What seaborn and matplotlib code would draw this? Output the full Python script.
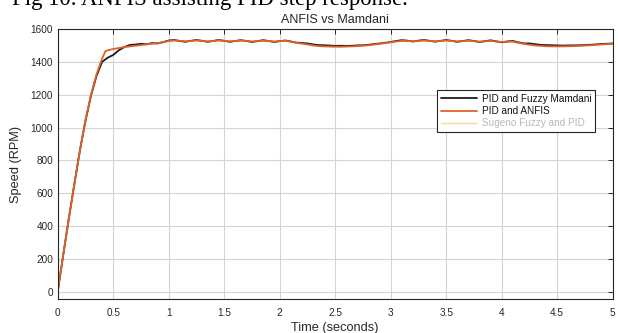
import matplotlib
matplotlib.use("Agg")
import matplotlib.pyplot as plt
from matplotlib.lines import Line2D
import pandas as pd
import seaborn as sns

# --- PID + Fuzzy Mamdani speed response ---
t_mamdani = [0.00, 0.05, 0.10, 0.15, 0.20, 0.25, 0.30, 0.35, 0.40, 0.45,
             0.50, 0.55, 0.60, 0.65, 0.70, 0.75, 0.80, 0.85, 0.90, 0.95,
             1.00, 1.05, 1.10, 1.15, 1.20, 1.25, 1.30, 1.35, 1.40, 1.45,
             1.50, 1.55, 1.60, 1.65, 1.70, 1.75, 1.80, 1.85, 1.90, 1.95,
             2.00, 2.05, 2.10, 2.15, 2.20, 2.25, 2.30, 2.35, 2.40, 2.45,
             2.50, 2.55, 2.60, 2.65, 2.70, 2.75, 2.80, 2.85, 2.90, 2.95,
             3.00, 3.05, 3.10, 3.15, 3.20, 3.25, 3.30, 3.35, 3.40, 3.45,
             3.50, 3.55, 3.60, 3.65, 3.70, 3.75, 3.80, 3.85, 3.90, 3.95,
             4.00, 4.05, 4.10, 4.15, 4.20, 4.25, 4.30, 4.35, 4.40, 4.45,
             4.50, 4.55, 4.60, 4.65, 4.70, 4.75, 4.80, 4.85, 4.90, 4.95,
             5.00]
rpm_mamdani = [0, 225, 445, 655, 860, 1040, 1195, 1315, 1400, 1425,
               1442, 1470, 1490, 1503, 1505, 1510, 1507, 1514, 1512, 1520,
               1530, 1533, 1527, 1522, 1528, 1533, 1528, 1522, 1527, 1533,
               1528, 1522, 1527, 1532, 1527, 1521, 1526, 1532, 1527, 1521,
               1526, 1530, 1524, 1517, 1515, 1512, 1506, 1502, 1501, 1499,
               1497, 1498, 1497, 1498, 1500, 1501, 1504, 1508, 1512, 1516,
               1521, 1527, 1532, 1529, 1524, 1529, 1533, 1528, 1523, 1528,
               1533, 1528, 1522, 1527, 1532, 1527, 1521, 1526, 1531, 1525,
               1519, 1524, 1527, 1519, 1512, 1512, 1508, 1503, 1502, 1501,
               1500, 1499, 1500, 1500, 1501, 1502, 1504, 1506, 1509, 1510,
               1512]

# --- PID + ANFIS speed response ---
t_anfis = [0.00, 0.05, 0.10, 0.15, 0.20, 0.25, 0.30, 0.35, 0.40, 0.43,
           0.46, 0.50, 0.55, 0.60, 0.65, 0.70, 0.75, 0.80, 0.85, 0.90,
           0.95, 1.00, 1.05, 1.10, 1.15, 1.20, 1.25, 1.30, 1.35, 1.40,
           1.45, 1.50, 1.55, 1.60, 1.65, 1.70, 1.75, 1.80, 1.85, 1.90,
           1.95, 2.00, 2.05, 2.10, 2.15, 2.20, 2.25, 2.30, 2.35, 2.40,
           2.45, 2.50, 2.55, 2.60, 2.65, 2.70, 2.75, 2.80, 2.85, 2.90,
           2.95, 3.00, 3.05, 3.10, 3.15, 3.20, 3.25, 3.30, 3.35, 3.40,
           3.45, 3.50, 3.55, 3.60, 3.65, 3.70, 3.75, 3.80, 3.85, 3.90,
           3.95, 4.00, 4.05, 4.10, 4.15, 4.20, 4.25, 4.30, 4.35, 4.40,
           4.45, 4.50, 4.55, 4.60, 4.65, 4.70, 4.75, 4.80, 4.85, 4.90,
           4.95, 5.00]
rpm_anfis = [0, 225, 445, 655, 860, 1045, 1200, 1325, 1420, 1465,
             1472, 1478, 1484, 1490, 1494, 1498, 1502, 1506, 1510, 1514,
             1520, 1527, 1530, 1528, 1525, 1527, 1530, 1528, 1525, 1527,
             1530, 1528, 1525, 1527, 1530, 1527, 1524, 1526, 1529, 1527,
             1524, 1526, 1528, 1523, 1516, 1511, 1506, 1500, 1496, 1494,
             1493, 1492, 1492, 1493, 1494, 1496, 1498, 1501, 1505, 1510,
             1514, 1519, 1524, 1528, 1527, 1525, 1527, 1530, 1527, 1525,
             1527, 1530, 1527, 1524, 1526, 1529, 1526, 1523, 1525, 1528,
             1524, 1521, 1523, 1523, 1516, 1509, 1504, 1500, 1497, 1495,
             1494, 1494, 1494, 1495, 1496, 1497, 1499, 1501, 1503, 1506,
             1508, 1510]

series_labels = ["PID and Fuzzy Mamdani", "PID and ANFIS", "Sugeno Fuzzy and PID"]
x_ticks = [0, 0.5, 1, 1.5, 2, 2.5, 3, 3.5, 4, 4.5, 5]
x_tick_labels = ["0", "0.5", "1", "1.5", "2", "2.5", "3", "3.5", "4", "4.5", "5"]
y_ticks = [0, 200, 400, 600, 800, 1000, 1200, 1400, 1600]

df = pd.concat([
    pd.DataFrame({"time": t_mamdani, "speed": rpm_mamdani, "series": series_labels[0]}),
    pd.DataFrame({"time": t_anfis, "speed": rpm_anfis, "series": series_labels[1]}),
], ignore_index=True)

sns.set_style("white")
plt.rcParams["font.family"] = ["Liberation Sans", "DejaVu Sans"]

W, H = 618, 333
fig = plt.figure(figsize=(W / 100, H / 100), dpi=100)
left, right, top, bottom = 57.7, 612.7, 29.0, 299.3
ax = fig.add_axes([left / W, 1 - bottom / H, (right - left) / W, (bottom - top) / H])

colors = {series_labels[0]: "#1a1a1a", series_labels[1]: "#e0622a"}
sns.lineplot(data=df, x="time", y="speed", hue="series", palette=colors,
             estimator=None, sort=False, linewidth=1.3, ax=ax, legend=False)

ax.set_xlim(0, 5)
ax.set_ylim(-46, 1600)
ax.set_xticks(x_ticks)
ax.set_xticklabels(x_tick_labels)
ax.set_yticks(y_ticks)
ax.grid(True, color="#d4d4d4", linewidth=0.8)
ax.set_axisbelow(True)
ax.tick_params(direction="in", length=3.5, width=0.7, colors="#262626",
               top=True, right=True, labelsize=7.2)
ax.tick_params(axis="x", pad=6)
ax.tick_params(axis="y", pad=3.2)
for sp in ax.spines.values():
    sp.set_color("#262626")
    sp.set_linewidth(0.8)

ax.set_xlabel("Time (seconds)", fontsize=9.2, color="#262626", labelpad=3)
ax.set_ylabel("Speed (RPM)", fontsize=9.2, color="#262626", labelpad=6)
ax.set_title("ANFIS vs Mamdani", fontsize=9, color="#262626", pad=4)

handles = [Line2D([], [], color="#1a1a1a", lw=1.3),
           Line2D([], [], color="#e0622a", lw=1.3),
           Line2D([], [], color="#f5dc98", lw=1.0)]
leg = ax.legend(handles, series_labels, loc="upper left",
                bbox_to_anchor=((437 - left) / (right - left), (bottom - 90) / (bottom - top)),
                borderaxespad=0, fontsize=7.2, handlelength=3.6, handletextpad=0.5,
                labelspacing=0.25, borderpad=0.35, frameon=True, fancybox=False,
                framealpha=1)
leg.get_frame().set_edgecolor("#262626")
leg.get_frame().set_linewidth(0.8)
text_colors = ["#111111", "#111111", "#b8b8b8"]
for txt, c in zip(leg.get_texts(), text_colors):
    txt.set_color(c)

# caption line above the chart (only its lower part falls inside the figure)
fig.text(12 / W, 1 - 5.5 / H, "Fig 10. ANFIS assisting PID step response.",
         fontsize=16.4, family=["Liberation Serif", "DejaVu Serif"],
         va="baseline", ha="left", color="black")

fig.savefig("out.png", dpi=100)
